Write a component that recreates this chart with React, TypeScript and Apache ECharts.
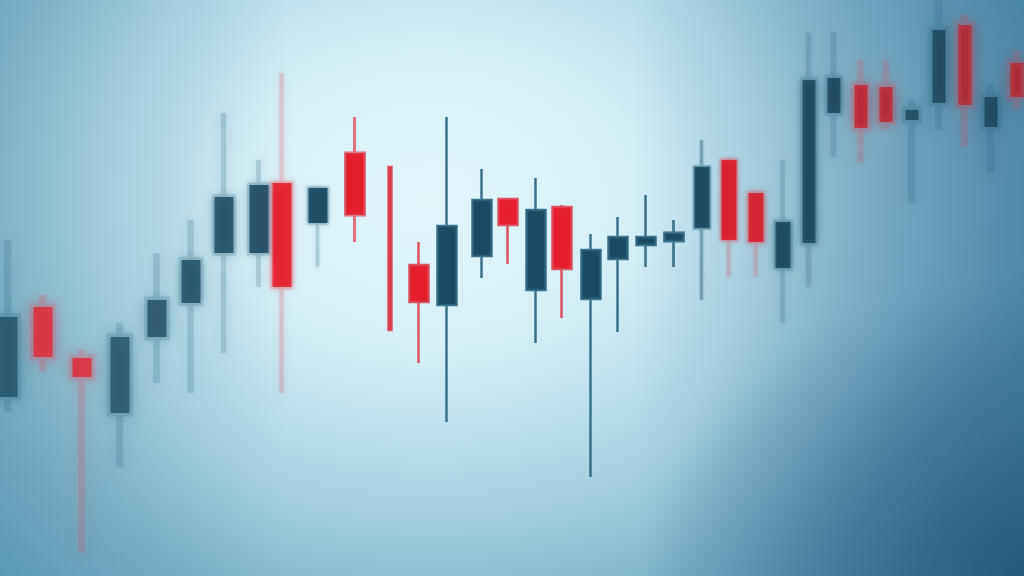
import { useEffect, useRef } from "react";
import * as echarts from "echarts";

// Session positions (time axis) and OHLC prices
const times = [8, 43, 82, 120, 157, 191, 224, 259, 282, 318, 355, 390, 419, 447, 482, 508, 536, 562, 591, 618, 646, 674, 702, 729, 756, 783, 809, 834, 861, 886, 912, 939, 965, 991, 1017];
const opens = [203, 293, 242, 187, 263, 297, 347, 347, 417, 377, 447, 433, 335, 295, 344, 401, 310, 393, 301, 341, 355, 359, 372, 440, 407, 332, 357, 487, 515, 513, 480, 497, 575, 473, 537];
const closes = [283, 243, 223, 263, 300, 340, 403, 415, 313, 412, 385, 270, 298, 374, 400, 375, 390, 331, 350, 363, 363, 367, 433, 360, 358, 378, 520, 522, 472, 478, 490, 570, 495, 503, 503];
const lows = [188, 228, 47, 133, 217, 207, 247, 313, 207, 333, 358, 270, 237, 178, 322, 336, 257, 282, 123, 268, 333, 333, 300, 323, 323, 277, 313, 443, 437, 470, 397, 470, 453, 427, 490];
const highs = [360, 305, 250, 277, 347, 380, 487, 440, 527, 414, 483, 433, 358, 483, 431, 401, 422, 395, 366, 383, 405, 380, 460, 443, 410, 440, 567, 568, 540, 540, 500, 600, 585, 517, 550];
const thinTimes = [390];

const UP = [28, 74, 98];
const UP_WICK = [42, 101, 128];
const DOWN = [230, 30, 44];
const DOWN_WICK = [220, 68, 82];

const BG = [
  "radial-gradient(380px 300px at 100% 100%, rgba(14,62,100,0.6) 0%, rgba(14,62,100,0) 100%)",
  "linear-gradient(90deg, rgba(40,100,140,0) 62%, rgba(40,100,140,0.5) 100%)",
  "linear-gradient(90deg, rgba(55,120,150,0.3) 0%, rgba(55,120,150,0) 28%)",
  "radial-gradient(640px 470px at 430px 200px, #e1f6fb 0%, #d6f0f8 30%, #b6dcea 55%, #96c5d8 75%, #7db3c9 90%, #63a1bc 110%)",
].join(", ");

function rgba(c: number[], a: number) {
  return `rgba(${c[0]},${c[1]},${c[2]},${a.toFixed(3)})`;
}

function darken(c: number[], k: number) {
  return c.map((v) => Math.round(v * (1 - k)));
}

function blurOf(t: number) {
  return Math.min(1, Math.max(0, (Math.abs(t - 520) - 140) / 260));
}

type Candle = { t: number; o: number; c: number; l: number; h: number };

const candles: Candle[] = times.map((t, i) => ({ t, o: opens[i], c: closes[i], l: lows[i], h: highs[i] }));

function toItem(cd: Candle) {
  const b = blurOf(cd.t);
  const up = cd.c > cd.o;
  const shade = cd.t > 520 ? 0.2 * b : 0;
  const base = darken(up ? UP : DOWN, shade);
  const wick = up ? UP_WICK : DOWN_WICK;
  const bodyA = 1 - 0.22 * b;
  const wickA = b === 0 ? 0.9 : Math.max(0.2, 0.85 - 3 * b);
  const fill = rgba(base, bodyA);
  const stroke = rgba(wick, wickA);
  return {
    value: [cd.t, cd.o, cd.c, cd.l, cd.h],
    itemStyle: {
      color: fill,
      color0: fill,
      borderColor: stroke,
      borderColor0: stroke,
      borderWidth: 2.5 + 5 * b,
      opacity: 1,
      shadowBlur: 16 * b,
      shadowColor: rgba(base, 0.6 * bodyA),
    },
  };
}

const groups = [
  { w: 4, test: (t: number) => thinTimes.includes(t) },
  { w: 20, test: (t: number) => !thinTimes.includes(t) && t < 690 },
  { w: 15, test: (t: number) => t >= 690 && t < 800 },
  { w: 13, test: (t: number) => t >= 800 },
];

export default function App() {
  const ref = useRef<HTMLDivElement>(null);
  useEffect(() => {
    if (!ref.current) return;
    const chart = echarts.init(ref.current, null, { renderer: "svg" });
    chart.setOption({
      animation: false,
      backgroundColor: "transparent",
      grid: { left: 0, right: 0, top: 0, bottom: 0, containLabel: false },
      xAxis: { type: "value", min: 0, max: 1024, show: false, splitLine: { show: false } },
      yAxis: { type: "value", min: 24, max: 600, show: false, splitLine: { show: false } },
      series: groups.map((g) => ({
        type: "candlestick",
        silent: true,
        barWidth: g.w,
        clip: false,
        data: candles.filter((cd) => g.test(cd.t)).map(toItem),
      })),
    });
    return () => chart.dispose();
  }, []);
  return (
    <div
      ref={ref}
      style={{ position: "fixed", left: 0, top: 0, width: 1024, height: 576, background: BG }}
    />
  );
}
